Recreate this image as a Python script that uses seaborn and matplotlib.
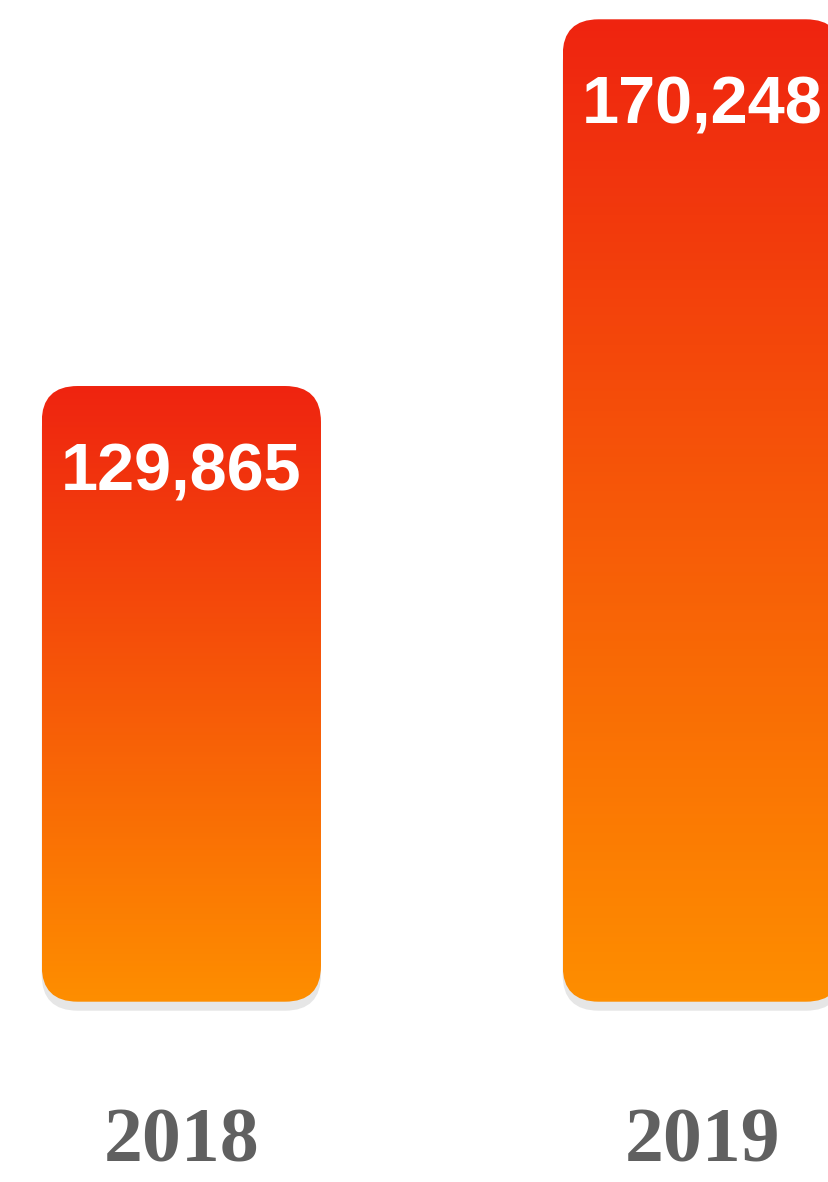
import numpy as np
import matplotlib
matplotlib.use('Agg')
import matplotlib.pyplot as plt
import seaborn as sns
from matplotlib.patches import FancyBboxPatch
from matplotlib.colors import LinearSegmentedColormap

# 数据
years = ['2018', '2019']
values = [129865, 170248]

sns.set_theme(style='white')
plt.rcParams['font.family'] = ['Liberation Sans', 'DejaVu Sans']

fig = plt.figure(figsize=(8.29, 11.82), dpi=100)
ax = fig.add_axes([0, 0.15254, 1, 0.84746])

bar_w = 0.5361
sns.barplot(x=years, y=values, width=bar_w, color='#f05010', ax=ax)

# 坐标范围（y轴不从0开始）
ylo, yhi = 62061, 172373
ax.set_xlim(-0.3481, 1.2432)
ax.set_ylim(ylo, yhi)

# 圆角半径（数据单位）
rx = 36 / 520.95
ry = 36 / 0.0090806
shadow_dy = 9 / 0.0090806

cmap = LinearSegmentedColormap.from_list('grad', ['#EF2410', '#FE8E00'])
grad = np.linspace(0, 1, 256).reshape(-1, 1)

bars = list(ax.patches)
for p in bars:
    x0 = p.get_x()
    w = p.get_width()
    top = p.get_y() + p.get_height()
    p.set_visible(False)

    # 阴影
    shadow = FancyBboxPatch((x0, ylo - shadow_dy), w, top - ylo,
                            boxstyle=f'round,pad=0,rounding_size={rx}',
                            mutation_aspect=ry / rx, facecolor='#e6e6e6',
                            edgecolor='none', clip_on=False, zorder=1)
    ax.add_patch(shadow)

    # 圆角柱子 + 渐变（上红下橙）
    box = FancyBboxPatch((x0, ylo), w, top - ylo,
                         boxstyle=f'round,pad=0,rounding_size={rx}',
                         mutation_aspect=ry / rx, facecolor='none',
                         edgecolor='none', clip_on=False, zorder=2)
    ax.add_patch(box)
    im = ax.imshow(grad, cmap=cmap, aspect='auto',
                   extent=(x0, x0 + w, ylo, top), origin='upper',
                   zorder=3)
    im.set_clip_path(box)

# 数值标签
ax.bar_label(ax.containers[0], labels=[f'{v:,}' for v in values],
             padding=-85, color='white', fontsize=48, fontweight='bold',
             family=['Liberation Sans', 'DejaVu Sans'], zorder=5)

# 年份标签
ax.set_xticks(range(len(years)))
ax.set_xticklabels(years, fontsize=56, fontweight='bold', color='#606060',
                   family=['Liberation Serif', 'DejaVu Serif'])
ax.tick_params(axis='x', length=0, pad=76)
ax.set_yticks([])
ax.set_xlabel('')
ax.set_ylabel('')
for s in ax.spines.values():
    s.set_visible(False)

fig.savefig('out.png', dpi=100)
